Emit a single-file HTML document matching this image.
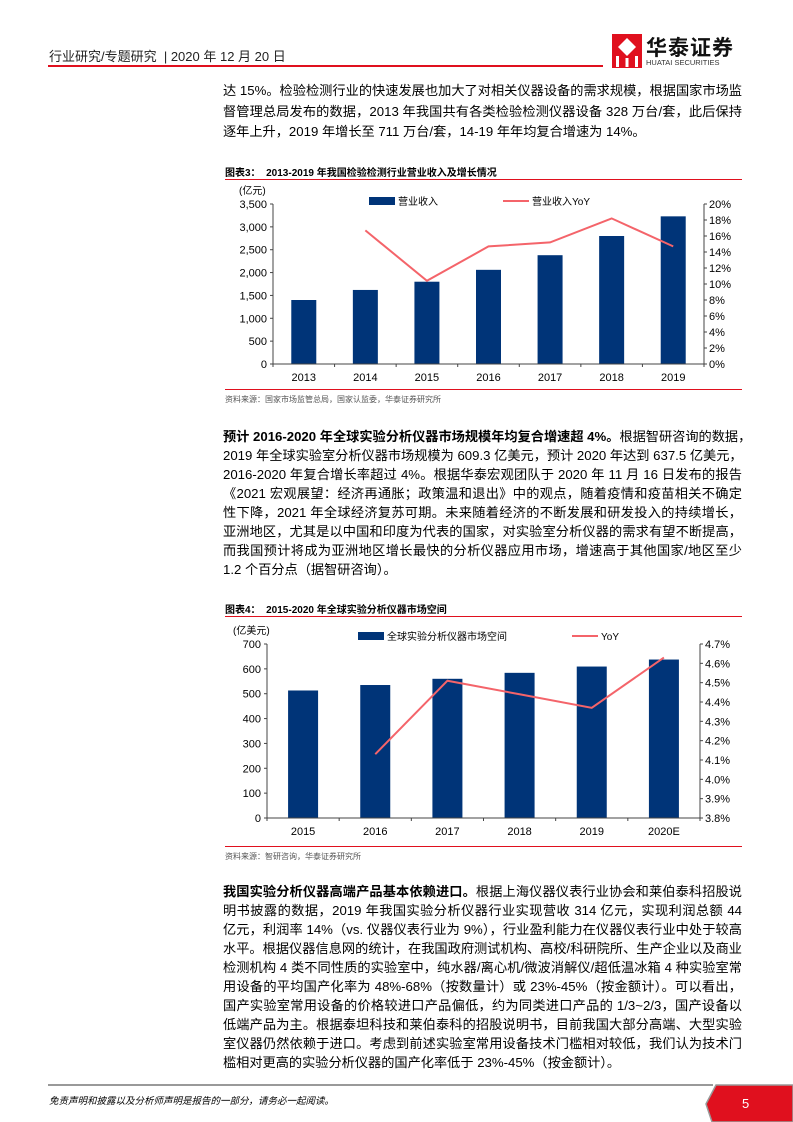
<!DOCTYPE html>
<html><head><meta charset="utf-8">
<style>
html,body{margin:0;padding:0;background:#fff;}
#page{position:relative;width:793px;height:1122px;overflow:hidden;font-family:"Liberation Sans","Noto Sans CJK SC",sans-serif;color:#000;}
.ln{position:absolute;left:223px;width:519px;font-size:13.2px;line-height:16px;white-space:nowrap;text-align:justify;text-align-last:justify;}
.ln.last{text-align-last:left;}
.ab{position:absolute;white-space:nowrap;}
svg text{font-family:"Liberation Sans","Noto Sans CJK SC",sans-serif;}
</style></head><body>
<div id="page">
<div class="ab" style="left:49px;top:46px;font-size:13px;color:#222;">行业研究/专题研究 &nbsp;| 2020 年 12 月 20 日</div>
<div class="ab" style="left:48px;top:65px;width:555px;height:2px;background:#e0101e;"></div>
<div class="ab" style="left:612px;top:34px;width:130px;height:34px;">
 <svg width="30" height="34" viewBox="0 0 30 34"><rect x="0" y="0" width="30" height="34" fill="#e0101e"/><path d="M15 4 L24 13 L15 22 L6 13Z" fill="#fff"/><rect x="4" y="22" width="3" height="11" fill="#fff"/><rect x="13.5" y="24" width="3" height="9" fill="#fff"/><rect x="23" y="22" width="3" height="11" fill="#fff"/></svg>
 <div class="ab" style="left:34px;top:-2px;font-size:21px;font-weight:bold;color:#111;letter-spacing:1px;">华泰证券</div>
 <div class="ab" style="left:34px;top:24px;font-size:7.5px;color:#333;">HUATAI SECURITIES</div>
</div>

<div class="ln" style="top:83px;">达 15%。检验检测行业的快速发展也加大了对相关仪器设备的需求规模，根据国家市场监</div>
<div class="ln" style="top:104px;">督管理总局发布的数据，2013 年我国共有各类检验检测仪器设备 328 万台/套，此后保持</div>
<div class="ln last" style="top:124px;">逐年上升，2019 年增长至 711 万台/套，14-19 年年均复合增速为 14%。</div>

<div class="ab" style="left:225px;top:164px;font-size:10px;font-weight:bold;">图表3：&nbsp; 2013-2019 年我国检验检测行业营业收入及增长情况</div>
<div class="ab" style="left:225px;top:179px;width:517px;height:1px;background:#e0101e;"></div>
<div class="ab" style="left:225px;top:389px;width:517px;height:1px;background:#e0101e;"></div>
<div class="ab" style="left:225px;top:394px;font-size:8px;color:#555;">资料来源：国家市场监管总局，国家认监委，华泰证券研究所</div>

<div class="ln" style="top:429px;"><b>预计 2016-2020 年全球实验分析仪器市场规模年均复合增速超 4%。</b>根据智研咨询的数据，</div>
<div class="ln" style="top:448px;">2019 年全球实验室分析仪器市场规模为 609.3 亿美元，预计 2020 年达到 637.5 亿美元，</div>
<div class="ln" style="top:467px;">2016-2020 年复合增长率超过 4%。根据华泰宏观团队于 2020 年 11 月 16 日发布的报告</div>
<div class="ln" style="top:486px;">《2021 宏观展望：经济再通胀；政策温和退出》中的观点，随着疫情和疫苗相关不确定</div>
<div class="ln" style="top:505px;">性下降，2021 年全球经济复苏可期。未来随着经济的不断发展和研发投入的持续增长，</div>
<div class="ln" style="top:524px;">亚洲地区，尤其是以中国和印度为代表的国家，对实验室分析仪器的需求有望不断提高，</div>
<div class="ln" style="top:543px;">而我国预计将成为亚洲地区增长最快的分析仪器应用市场，增速高于其他国家/地区至少</div>
<div class="ln last" style="top:562px;">1.2 个百分点（据智研咨询）。</div>

<div class="ab" style="left:225px;top:601px;font-size:10px;font-weight:bold;">图表4：&nbsp; 2015-2020 年全球实验分析仪器市场空间</div>
<div class="ab" style="left:225px;top:616px;width:517px;height:1px;background:#e0101e;"></div>
<div class="ab" style="left:225px;top:846px;width:517px;height:1px;background:#e0101e;"></div>
<div class="ab" style="left:225px;top:851px;font-size:8px;color:#555;">资料来源：智研咨询，华泰证券研究所</div>

<div class="ln" style="top:884px;"><b>我国实验分析仪器高端产品基本依赖进口。</b>根据上海仪器仪表行业协会和莱伯泰科招股说</div>
<div class="ln" style="top:903px;">明书披露的数据，2019 年我国实验分析仪器行业实现营收 314 亿元，实现利润总额 44</div>
<div class="ln" style="top:922px;">亿元，利润率 14%（vs. 仪器仪表行业为 9%），行业盈利能力在仪器仪表行业中处于较高</div>
<div class="ln" style="top:941px;">水平。根据仪器信息网的统计，在我国政府测试机构、高校/科研院所、生产企业以及商业</div>
<div class="ln" style="top:960px;">检测机构 4 类不同性质的实验室中，纯水器/离心机/微波消解仪/超低温冰箱 4 种实验室常</div>
<div class="ln" style="top:979px;">用设备的平均国产化率为 48%-68%（按数量计）或 23%-45%（按金额计）。可以看出，</div>
<div class="ln" style="top:998px;">国产实验室常用设备的价格较进口产品偏低，约为同类进口产品的 1/3~2/3，国产设备以</div>
<div class="ln" style="top:1017px;">低端产品为主。根据泰坦科技和莱伯泰科的招股说明书，目前我国大部分高端、大型实验</div>
<div class="ln" style="top:1036px;">室仪器仍然依赖于进口。考虑到前述实验室常用设备技术门槛相对较低，我们认为技术门</div>
<div class="ln last" style="top:1055px;">槛相对更高的实验分析仪器的国产化率低于 23%-45%（按金额计）。</div>

<div class="ab" style="left:48px;top:1084px;width:665px;height:2px;background:#999;"></div>
<div class="ab" style="left:49px;top:1093px;font-size:9.5px;font-style:italic;">免责声明和披露以及分析师声明是报告的一部分，请务必一起阅读。</div>
<svg class="ab" style="left:700px;top:1084px;" width="93" height="38"><path d="M16 1 L93 1 L93 38 L12 38 L6 20 Z" fill="#e0101e" stroke="#999" stroke-width="1.5"/><text x="42" y="24" font-size="13" fill="#fff">5</text></svg>

<svg id="charts" class="ab" style="left:0;top:0;" width="793" height="1122"></svg>
</div>
<script>
const c3Years=["2013","2014","2015","2016","2017","2018","2019"];
const c3Revenue=[1400,1620,1800,2060,2380,2800,3230];
const c3Yoy=[null,16.7,10.4,14.7,15.2,18.2,14.7];
const c3LeftTicks=[0,500,1000,1500,2000,2500,3000,3500];
const c3LeftLabels=["0","500","1,000","1,500","2,000","2,500","3,000","3,500"];
const c3RightTicks=[0,2,4,6,8,10,12,14,16,18,20];

const c4Years=["2015","2016","2017","2018","2019","2020E"];
const c4Market=[513,535,560,584,609.3,637.5];
const c4Yoy=[null,4.13,4.51,4.44,4.37,4.63];
const c4LeftTicks=[0,100,200,300,400,500,600,700];
const c4RightTicks=[3.8,3.9,4.0,4.1,4.2,4.3,4.4,4.5,4.6,4.7];

const NS="http://www.w3.org/2000/svg";
const svg=document.getElementById('charts');
function mk(tag,attrs,parent){const e=document.createElementNS(NS,tag);for(const k in attrs)e.setAttribute(k,attrs[k]);(parent||svg).appendChild(e);return e;}
function txt(s,attrs,parent){const e=mk('text',attrs,parent);e.textContent=s;return e;}

function drawChart(cfg){
  const g=mk('g',{});
  
  
  const {x0,x1,y0,y1}=cfg;
  const n=cfg.cats.length, bw=(x1-x0)/n;
  const yL=v=>y0-(v-cfg.lmin)/(cfg.lmax-cfg.lmin)*(y0-y1);
  const yR=v=>y0-(v-cfg.rmin)/(cfg.rmax-cfg.rmin)*(y0-y1);
  const xC=i=>x0+bw*(i+0.5);
  cfg.bars.forEach((v,i)=>{
    const r=mk('rect',{x:xC(i)-cfg.barW/2,y:yL(v),width:cfg.barW,height:y0-yL(v),fill:'#003478'},g);
    
    
  });
  let d='';
  cfg.line.forEach((v,i)=>{if(v==null)return;d+=(d?'L':'M')+xC(i)+' '+yR(v);});
  const p=mk('path',{d:d,fill:'none',stroke:'#f4646a','stroke-width':2},g);
  
  
  mk('line',{x1:x0,y1:y1,x2:x0,y2:y0,stroke:'#444','stroke-width':1},g);
  mk('line',{x1:x1,y1:y1,x2:x1,y2:y0,stroke:'#444','stroke-width':1},g);
  mk('line',{x1:x0,y1:y0,x2:x1,y2:y0,stroke:'#444','stroke-width':1},g);
  for(let i=0;i<=n;i++)mk('line',{x1:x0+bw*i,y1:y0,x2:x0+bw*i,y2:y0+3,stroke:'#444'},g);
  cfg.lticks.forEach((v,i)=>{
    mk('line',{x1:x0-3,y1:yL(v),x2:x0,y2:yL(v),stroke:'#444'},g);
    const t=txt(cfg.llabels[i],{x:x0-6,y:yL(v)+4,'font-size':11,'text-anchor':'end'},g);
    
    
  });
  cfg.rticks.forEach(v=>{
    mk('line',{x1:x1,y1:yR(v),x2:x1+3,y2:yR(v),stroke:'#444'},g);
    const t=txt(cfg.rfmt(v),{x:x1+5,y:yR(v)+4,'font-size':11},g);
    
    
  });
  cfg.cats.forEach((c,i)=>{
    const t=txt(c,{x:xC(i),y:y0+17,'font-size':11,'text-anchor':'middle'},g);
    
    
  });
  const u=txt(cfg.unit,{x:x0-34,y:y1-10,'font-size':10},g);
  
  
  mk('rect',{x:cfg.lg1,y:cfg.lgy-4,width:26,height:8,fill:'#003478'},g);
  const l1=txt(cfg.lgt1,{x:cfg.lg1+29,y:cfg.lgy+4,'font-size':10},g);
  
  
  mk('line',{x1:cfg.lg2,y1:cfg.lgy,x2:cfg.lg2+26,y2:cfg.lgy,stroke:'#f4646a','stroke-width':2},g);
  const l2=txt(cfg.lgt2,{x:cfg.lg2+29,y:cfg.lgy+4,'font-size':10},g);
  
  
}

drawChart({name:'chart3-revenue',cats:c3Years,bars:c3Revenue,line:c3Yoy,x0:273,x1:704,y0:364,y1:204,
  lmin:0,lmax:3500,rmin:0,rmax:20,barW:25,lticks:c3LeftTicks,llabels:c3LeftLabels,rticks:c3RightTicks,
  rfmt:v=>v+'%',unit:'(亿元)',lg1:369,lg2:503,lgy:201,lgt1:'营业收入',lgt2:'营业收入YoY'});
drawChart({name:'chart4-market',cats:c4Years,bars:c4Market,line:c4Yoy,x0:267,x1:700,y0:818,y1:644,
  lmin:0,lmax:700,rmin:3.8,rmax:4.7,barW:30,lticks:c4LeftTicks,llabels:c4LeftTicks.map(String),rticks:c4RightTicks,
  rfmt:v=>v.toFixed(1)+'%',unit:'(亿美元)',lg1:358,lg2:572,lgy:636,lgt1:'全球实验分析仪器市场空间',lgt2:'YoY'});
</script>
</body></html>
